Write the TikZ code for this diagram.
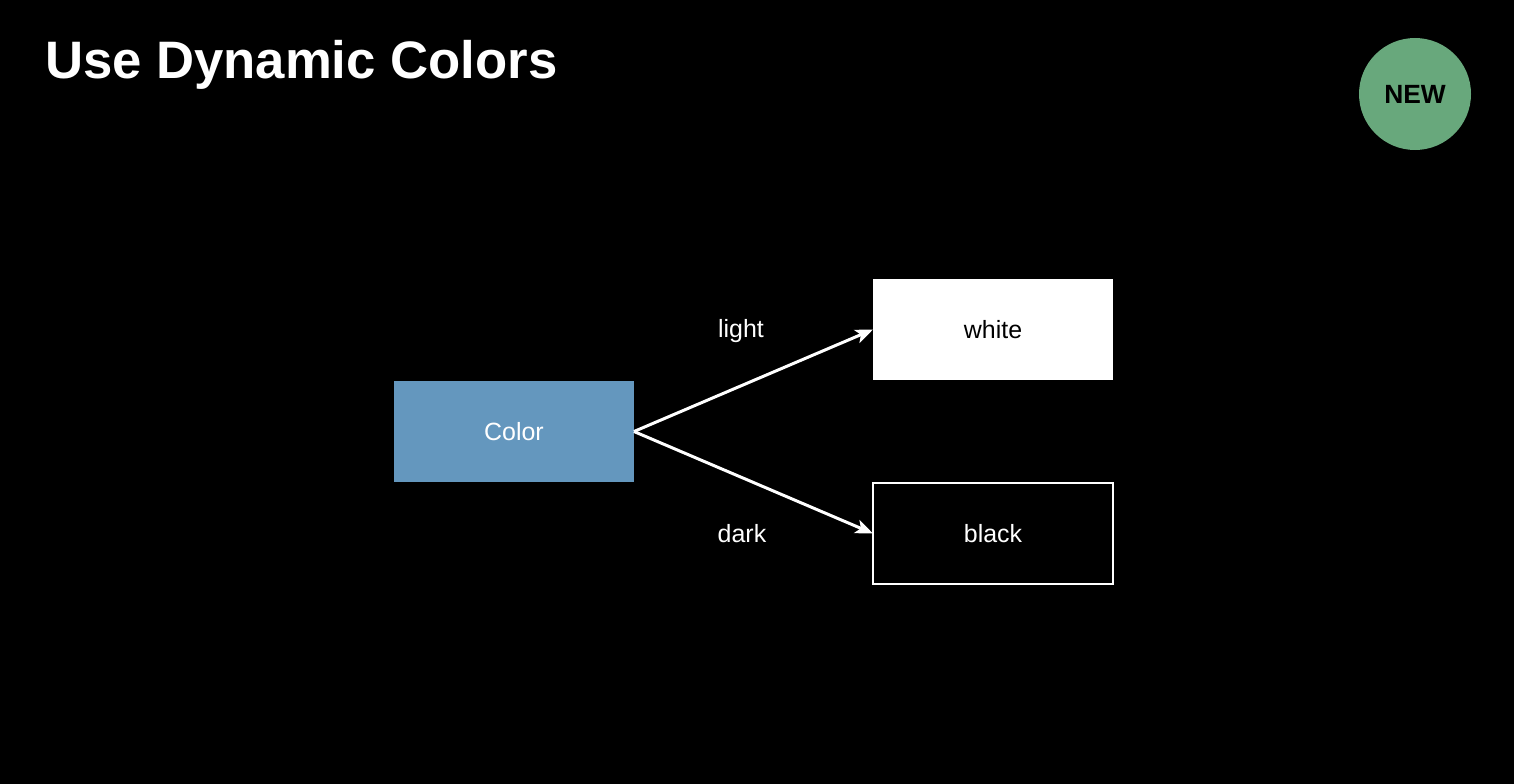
\documentclass[tikz,border=0pt]{standalone}
\usepackage{fontspec}
\setmainfont{Liberation Sans}
\usetikzlibrary{arrows.meta}
\definecolor{boxblue}{HTML}{6497BE}
\definecolor{newgreen}{HTML}{68A87C}
\begin{document}
\begin{tikzpicture}[x=0.02cm,y=-0.02cm,
  every node/.style={inner sep=0pt,outer sep=0pt},
  box/.style={rectangle,minimum width=240*0.02cm,minimum height=101*0.02cm,font=\fontsize{14.2pt}{17pt}\selectfont},
  lbl/.style={text=white,font=\fontsize{14.2pt}{17pt}\selectfont},
  conn/.style={draw=white,line width=1.7pt,-{Stealth[length=10pt,width=8pt,inset=2.5pt]}}]
\fill[black] (0,0) rectangle (1514,784);
\useasboundingbox (0,0) rectangle (1514,784);
\node[anchor=base west,text=white,font=\bfseries\fontsize{30pt}{36pt}\selectfont] (title) at (45,79) {Use Dynamic Colors};
\node[circle,fill=newgreen,minimum size=112*0.02cm,font=\bfseries\fontsize{15pt}{18pt}\selectfont] (new) at (1415,94) {NEW};
\node[box,fill=boxblue,text=white] (color) at (514,431.5) {Color};
\node[box,fill=white,text=black] (white) at (993,329.5) {white};
\node[box,draw=white,line width=0.9pt,fill=black,text=white] (black) at (993,533.5) {black};
\draw[conn] (color.east) -- (white.west);
\draw[conn] (color.east) -- (black.west);
\node[lbl] (light) at (741,331) {light};
\node[lbl] (dark) at (742,534) {dark};
\end{tikzpicture}
\end{document}
